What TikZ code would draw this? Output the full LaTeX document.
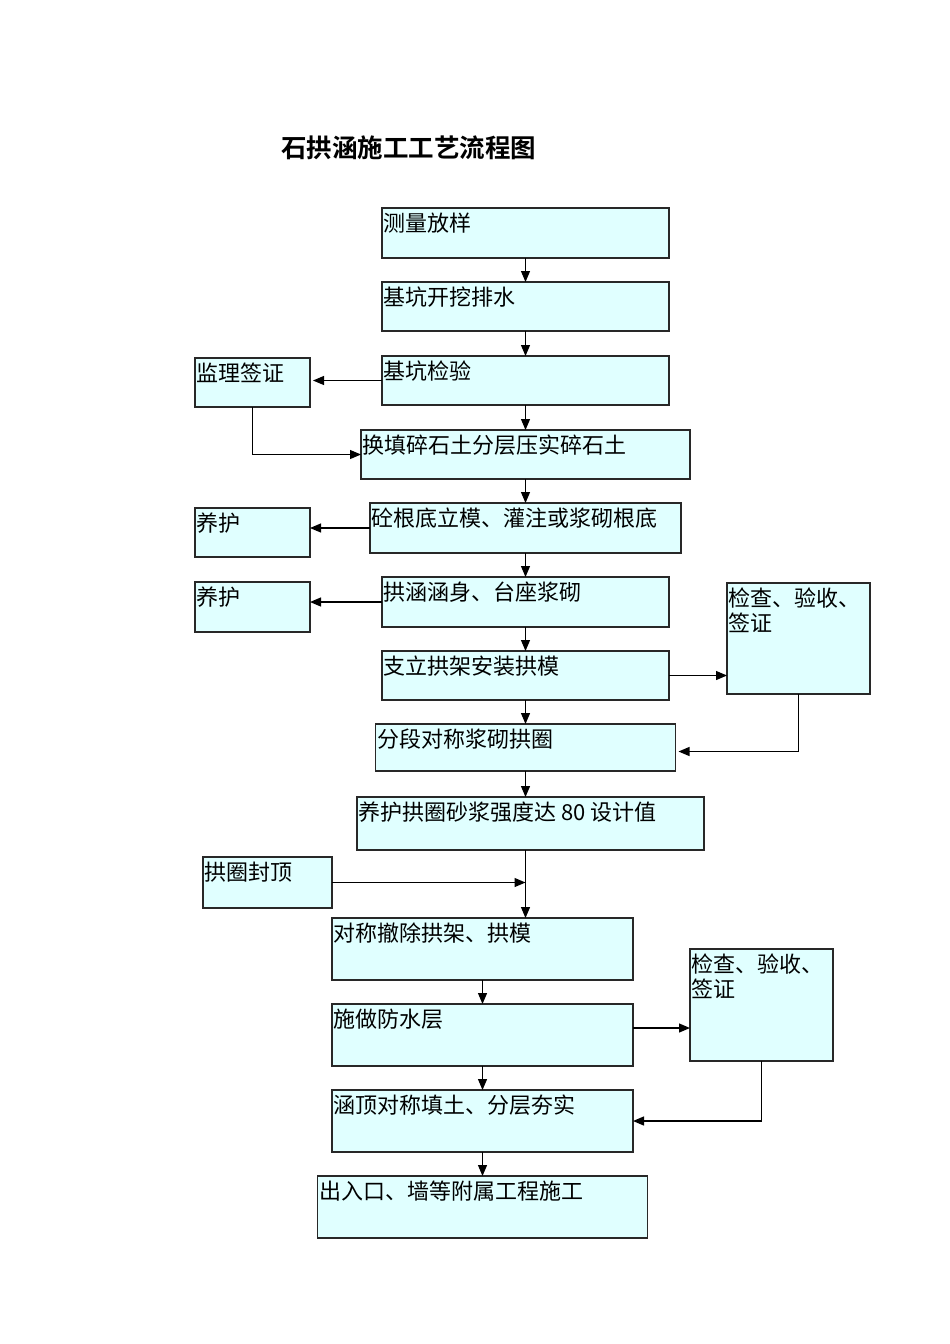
\documentclass[tikz,border=0pt]{standalone}
\usepackage{fontspec}
\setmainfont{Noto Sans CJK SC}[BoldFont={Noto Sans CJK SC Bold}]
\usetikzlibrary{positioning, arrows.meta, calc}
\definecolor{boxfill}{RGB}{224,255,255}
\definecolor{boxline}{RGB}{40,40,40}
\tikzset{
  stepbox/.style={rectangle, draw=boxline, line width=1.3pt, fill=boxfill, inner sep=0pt, outer sep=0pt, minimum height=49pt},
  tag/.style={anchor=north west, inner xsep=1.5pt, inner ysep=5pt, align=left, font=\fontsize{22}{25}\selectfont},
  arrow/.style={line width=1.2pt, -{Triangle[length=11pt,width=9pt]}}
}
\begin{document}
\begin{tikzpicture}[x=1pt, y=-1pt]
        \useasboundingbox (0,0) rectangle (950,1344);

        \node (title) [font=\bfseries\fontsize{25.5}{30}\selectfont] at (408.5,148) {石拱涵施工工艺流程图};

        % Columna central
        \node (measure) [stepbox, minimum width=287pt, minimum height=50pt, label={[tag]north west:测量放样}] at (525.5,233) {};
        \node (dig) [stepbox, minimum width=287pt, below=24pt of measure, label={[tag]north west:基坑开挖排水}] {};
        \node (pitcheck) [stepbox, minimum width=287pt, below=25pt of dig, label={[tag]north west:基坑检验}] {};
        \node (gravel) [stepbox, minimum width=329pt, below=25pt of pitcheck, label={[tag]north west:换填碎石土分层压实碎石土}] {};
        \node (footing) [stepbox, minimum width=311pt, minimum height=50pt, below=24pt of gravel, label={[tag]north west:砼根底立模、灌注或浆砌根底}] {};
        \node (culvert) [stepbox, minimum width=287pt, minimum height=50pt, below=24pt of footing, label={[tag]north west:拱涵涵身、台座浆砌}] {};
        \node (frame) [stepbox, minimum width=287pt, below=24pt of culvert, label={[tag]north west:支立拱架安装拱模}] {};
        \node (arch) [stepbox, minimum width=300pt, minimum height=47pt, below=24pt of frame, label={[tag]north west:分段对称浆砌拱圈}] {};
        \node (archcure) [stepbox, minimum width=347pt, minimum height=53pt, below=26pt of arch, xshift=5pt, label={[tag]north west:养护拱圈砂浆强度达 80 设计值}] {};
        \draw [arrow] (measure) -- (dig);
        \draw [arrow] (dig) -- (pitcheck);
        \draw [arrow] (pitcheck) -- (gravel);
        \draw [arrow] (gravel) -- (footing);
        \draw [arrow] (footing) -- (culvert);
        \draw [arrow] (culvert) -- (frame);
        \draw [arrow] (frame) -- (arch);
        \draw [arrow] (arch.south) -- (arch.south |- archcure.north);

        % Columna inferior
        \node (remove) [stepbox, minimum width=301pt, minimum height=62pt, label={[tag]north west:对称撤除拱架、拱模}] at (482.5,949) {};
        \node (waterproof) [stepbox, minimum width=301pt, minimum height=62pt, below=24pt of remove, label={[tag]north west:施做防水层}] {};
        \node (backfill) [stepbox, minimum width=301pt, minimum height=62pt, below=24pt of waterproof, label={[tag]north west:涵顶对称填土、分层夯实}] {};
        \node (annex) [stepbox, minimum width=330pt, minimum height=62pt, below=24pt of backfill, label={[tag]north west:出入口、墙等附属工程施工}] {};
        \draw [arrow] (archcure.south -| arch) -- (arch |- remove.north);
        \draw [arrow] (remove) -- (waterproof);
        \draw [arrow] (waterproof) -- (backfill);
        \draw [arrow] (backfill) -- (annex);

        % Columna izquierda
        \node (visa) [stepbox, minimum width=115pt, left=72pt of pitcheck, yshift=-2pt, label={[tag]north west:监理签证}] {};
        \node (cure1) [stepbox, minimum width=115pt, left=60pt of footing, yshift=-4.5pt, label={[tag]north west:养护}] {};
        \node (cure2) [stepbox, minimum width=115pt, minimum height=50pt, left=72pt of culvert, yshift=-5pt, label={[tag]north west:养护}] {};
        \node (keystone) [stepbox, minimum width=129pt, minimum height=51pt, label={[tag]north west:拱圈封顶}] at (267.5,882.5) {};
        \draw [arrow, shorten >=3pt] (pitcheck.west) -- (pitcheck.west -| visa.east);
        \draw [arrow] (visa.south) |- (gravel.west);
        \draw [arrow] (footing.west) -- (footing.west -| cure1.east);
        \draw [arrow] (culvert.west) -- (culvert.west -| cure2.east);
        \draw [arrow] (keystone.east) -- (keystone.east -| arch);

        % Columna derecha
        \node (inspect1) [stepbox, minimum width=143pt, minimum height=111pt, label={[tag]north west:检查、验收、\\签证}] at (798.5,638.5) {};
        \node (inspect2) [stepbox, minimum width=143pt, minimum height=112pt, label={[tag]north west:检查、验收、\\签证}] at (761.5,1005) {};
        \draw [arrow] (frame.east) -- (frame.east -| inspect1.west);
        \draw [arrow, shorten >=3pt] (inspect1.south) |- ([yshift=-4pt]arch.east);
        \draw [arrow] ([yshift=7pt]waterproof.east) -- ([yshift=7pt]waterproof.east -| inspect2.west);
        \draw [arrow] (inspect2.south) |- (backfill.east);

    \end{tikzpicture}
\end{document}
